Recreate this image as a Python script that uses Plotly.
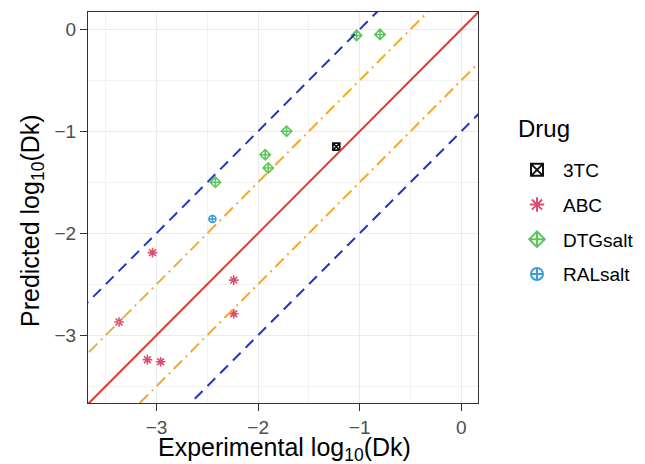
import plotly.graph_objects as go

# Data (log10 Dk values)
drug_names = ["3TC", "ABC", "DTGsalt", "RALsalt"]
x_3tc = [-1.23]
y_3tc = [-1.15]
x_abc = [-3.04, -2.24, -2.24, -3.37, -3.09, -2.96]
y_abc = [-2.19, -2.46, -2.79, -2.87, -3.24, -3.26]
x_dtg = [-1.03, -0.80, -1.72, -1.93, -1.90, -2.42]
y_dtg = [-0.06, -0.05, -1.00, -1.23, -1.36, -1.50]
x_ral = [-2.45]
y_ral = [-1.86]

# Reference lines: identity and fold-error bands (offsets in log10 units)
line_offsets = [0.0, 0.5, -0.5, 1.0, -1.0]
line_x = [-5.0, 2.0]

x_range = [-3.675, 0.165]
y_range = [-3.665, 0.17]
tick_vals = [-3, -2, -1, 0]
tick_text = ["\u22123", "\u22122", "\u22121", "0"]

W, H = 645, 464
ML, MR, MT, MB = 88, 167, 12, 61
PW, PH = W - ML - MR, H - MT - MB

fig = go.Figure()

series = [
    ("3TC", x_3tc, y_3tc, "#111111", "square-x-open", 7),
    ("ABC", x_abc, y_abc, "#D94F70", "asterisk-open", 8),
    ("DTGsalt", x_dtg, y_dtg, "#5DC75D", "diamond-cross-open", 8),
    ("RALsalt", x_ral, y_ral, "#3B9BDC", "circle-cross-open", 7),
]
for i, (name, xs, ys, col, sym, sz) in enumerate(series):
    fig.add_trace(go.Scatter(
        x=xs, y=ys, mode="markers", name=name, legendgroup=name,
        marker=dict(symbol=sym, color=col, size=sz, line=dict(color=col, width=1.6)),
    ))

line_styles = {
    0.0: ("#E23A2B", "solid"),
    0.5: ("#F5A92E", "12px,5px,2px,5px"),
    -0.5: ("#F5A92E", "12px,5px,2px,5px"),
    1.0: ("#1F35C9", "11px,7px"),
    -1.0: ("#1F35C9", "11px,7px"),
}
for off in line_offsets:
    col, dash = line_styles[off]
    fig.add_trace(go.Scatter(
        x=line_x, y=[v + off for v in line_x], mode="lines",
        line=dict(color=col, dash=dash, width=2), showlegend=False, hoverinfo="skip",
    ))

axis_common = dict(
    tickvals=tick_vals, ticktext=tick_text,
    showgrid=True, gridcolor="#EBEBEB", gridwidth=1.2,
    minor=dict(dtick=0.5, tick0=0, showgrid=True, gridcolor="#F2F2F2", gridwidth=0.8),
    zeroline=False, showline=True, linecolor="#333333", linewidth=1, mirror=True,
    ticks="outside", ticklen=7, tickcolor="#333333", tickwidth=1,
    tickfont=dict(size=19, color="#4D4D4D"), automargin=False,
)

fig.update_xaxes(range=x_range, **axis_common)
fig.update_yaxes(range=y_range, **axis_common)

def px_to_paper_x(px):
    return (px - ML) / PW

def px_to_paper_y(py):
    return 1 - (py - MT) / PH

fig.add_annotation(text="Experimental log<sub>10</sub>(Dk)", xref="paper", yref="paper",
                   x=px_to_paper_x(284), y=px_to_paper_y(449), xanchor="center", yanchor="middle",
                   showarrow=False, font=dict(size=25, color="#000000"))
fig.add_annotation(text="Predicted log<sub>10</sub>(Dk)", xref="paper", yref="paper",
                   x=px_to_paper_x(32), y=px_to_paper_y(221), xanchor="center", yanchor="middle",
                   textangle=-90, showarrow=False, font=dict(size=25, color="#000000"))
fig.add_annotation(text="Drug", xref="paper", yref="paper",
                   x=px_to_paper_x(516), y=px_to_paper_y(128), xanchor="left", yanchor="middle",
                   showarrow=False, font=dict(size=24, color="#000000"))

fig.update_layout(
    width=W, height=H,
    margin=dict(l=ML, r=MR, t=MT, b=MB, autoexpand=False),
    plot_bgcolor="white", paper_bgcolor="white",
    font=dict(family="Liberation Sans, Arial, sans-serif"),
    legend=dict(
        font=dict(size=19, color="#000000"),
        x=px_to_paper_x(511), xanchor="left", y=px_to_paper_y(151), yanchor="top",
        tracegroupgap=7, itemsizing="constant", itemwidth=42,
    ),
)

fig.write_html("out.html")
